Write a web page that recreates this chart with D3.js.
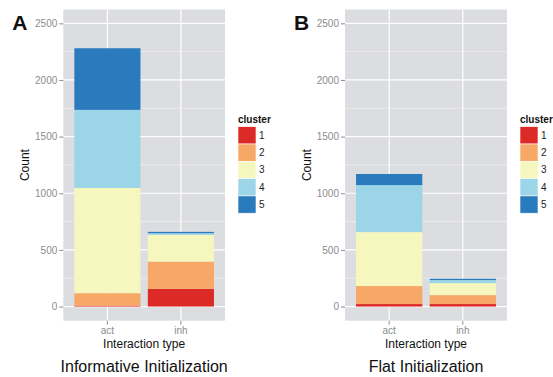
<!DOCTYPE html>
<html>
<head>
<meta charset="utf-8">
<script src="https://cdn.jsdelivr.net/npm/d3@7"></script>
<style>
  html, body { margin: 0; padding: 0; background: #fff; }
  svg { display: block; font-family: "Liberation Sans", Arial, Helvetica, sans-serif; }
</style>
</head>
<body>
<svg id="chart" width="553" height="377"></svg>
<script>
// ---- data ----
const categories = ["act", "inh"];
const clusters = ["1", "2", "3", "4", "5"];
const clusterColors = ["#dc2a27", "#f8a866", "#f6f6bf", "#9cd4e8", "#2a7bbd"];
// segment counts per cluster (1..5)
const informativeAct = [8, 110, 929, 689, 544];
const informativeInh = [156, 241, 236, 15, 11];
const flatAct = [22, 159, 476, 415, 98];
const flatInh = [22, 79, 106, 27, 11];
const yTicks = [0, 500, 1000, 1500, 2000, 2500];
const yMinorTicks = [250, 750, 1250, 1750, 2250];
const panelTitles = ["Informative Initialization", "Flat Initialization"];
const panelLetters = ["A", "B"];
const xTitle = "Interaction type";
const yTitle = "Count";
const legendTitle = "cluster";

const svg = d3.select("#chart");

function drawPanel(left, right, letter, title, actVals, inhVals) {
  const top = 9.5, bottom = 320.7;
  const g = svg.append("g");
  const y = d3.scaleLinear().domain([-125, 2622]).range([bottom, top]);
  const x = d3.scaleBand().domain(categories).range([left, right])
    .paddingInner(0.1).paddingOuter(0.15);

  // panel background
  g.append("rect").attr("x", left).attr("y", top)
    .attr("width", right - left).attr("height", bottom - top)
    .attr("fill", "#dcdde0");

  // minor grid
  g.selectAll(".minor").data(yMinorTicks).enter().append("line")
    .attr("x1", left).attr("x2", right)
    .attr("y1", d => y(d)).attr("y2", d => y(d))
    .attr("stroke", "#ebebed").attr("stroke-width", 1);
  // major grid
  g.selectAll(".major").data(yTicks).enter().append("line")
    .attr("x1", left).attr("x2", right)
    .attr("y1", d => y(d)).attr("y2", d => y(d))
    .attr("stroke", "#ffffff").attr("stroke-width", 1.2);
  g.selectAll(".vgrid").data(categories).enter().append("line")
    .attr("x1", d => x(d) + x.bandwidth() / 2).attr("x2", d => x(d) + x.bandwidth() / 2)
    .attr("y1", top).attr("y2", bottom)
    .attr("stroke", "#ffffff").attr("stroke-width", 1.2);

  // stacked bars
  const rows = [actVals, inhVals];
  categories.forEach((cat, ci) => {
    let cum = 0;
    rows[ci].forEach((v, k) => {
      const y0 = cum, y1 = cum + v;
      cum = y1;
      g.append("rect")
        .attr("x", x(cat)).attr("width", x.bandwidth())
        .attr("y", y(y1)).attr("height", y(y0) - y(y1))
        .attr("fill", clusterColors[k]);
    });
  });

  // y axis
  const ya = g.append("g").attr("transform", `translate(${left},0)`)
    .call(d3.axisLeft(y).tickValues(yTicks).tickSize(4).tickPadding(2).tickFormat(d3.format("d")));
  ya.select(".domain").remove();
  ya.selectAll(".tick line").attr("stroke", "#8c8c8c");
  ya.selectAll(".tick text").attr("fill", "#8c8c8c").attr("font-size", 10)
    .attr("font-family", "Liberation Sans, Arial, sans-serif");

  // x axis
  const xa = g.append("g").attr("transform", `translate(0,${bottom})`)
    .call(d3.axisBottom(x).tickSize(4).tickPadding(2));
  xa.select(".domain").remove();
  xa.selectAll(".tick line").attr("stroke", "#8c8c8c");
  xa.selectAll(".tick text").attr("fill", "#8c8c8c").attr("font-size", 10)
    .attr("font-family", "Liberation Sans, Arial, sans-serif");

  const cx = (left + right) / 2;
  // axis titles
  g.append("text").attr("x", cx).attr("y", 347.7).attr("text-anchor", "middle")
    .attr("font-size", 12).attr("fill", "#111").text(xTitle);
  g.append("text")
    .attr("transform", `translate(${left - 34.5},${(top + bottom) / 2}) rotate(-90)`)
    .attr("text-anchor", "middle").attr("font-size", 12).attr("fill", "#111").text(yTitle);

  // panel title
  g.append("text").attr("x", cx).attr("y", 372).attr("text-anchor", "middle")
    .attr("font-size", 16).attr("fill", "#111").text(title);

  // letter
  g.append("text").attr("x", left - 51).attr("y", 30)
    .attr("font-size", 21).attr("font-weight", "bold").attr("fill", "#111").text(letter);

  // legend
  const lx = right + 13, ly = 126.7, sw = 18, sh = 17.3;
  g.append("text").attr("x", lx).attr("y", 123).attr("font-size", 10)
    .attr("font-weight", "bold").attr("fill", "#111").text(legendTitle);
  clusters.forEach((c, k) => {
    g.append("rect").attr("x", lx).attr("y", ly + k * sh)
      .attr("width", sw).attr("height", sh).attr("fill", clusterColors[k])
      .attr("stroke", "#ffffff").attr("stroke-width", 0.6);
    g.append("text").attr("x", lx + sw + 3).attr("y", ly + k * sh + sh / 2 + 3.5)
      .attr("font-size", 10).attr("fill", "#222").text(c);
  });
}

drawPanel(63.3, 225, panelLetters[0], panelTitles[0], informativeAct, informativeInh);
drawPanel(345, 507, panelLetters[1], panelTitles[1], flatAct, flatInh);
</script>
</body>
</html>
